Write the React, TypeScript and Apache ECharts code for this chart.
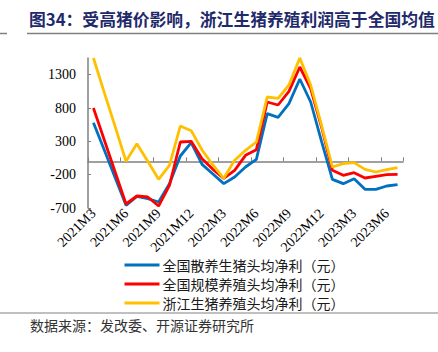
import React, { useEffect, useRef } from "react";
import * as echarts from "echarts";

const categories = [
  "2021M3", "2021M4", "2021M5", "2021M6", "2021M7", "2021M8", "2021M9", "2021M10", "2021M11", "2021M12",
  "2022M1", "2022M2", "2022M3", "2022M4", "2022M5", "2022M6", "2022M7", "2022M8", "2022M9", "2022M10",
  "2022M11", "2022M12", "2023M1", "2023M2", "2023M3", "2023M4", "2023M5", "2023M6", "2023M7",
];

const seriesNames = [
  "全国散养生猪头均净利（元）",
  "全国规模养殖头均净利（元）",
  "浙江生猪养殖头均净利（元）",
];

const retailProfit = [580, 170, -245, -660, -525, -560, -610, -335, 80, 280, -45, -190, -335, -235, -85, 30, 715, 660, 865, 1235, 890, 300, -270, -335, -260, -420, -420, -370, -350];
const scaleProfit = [800, 320, -160, -640, -520, -535, -670, -360, 290, 300, 40, -120, -255, -135, 90, 175, 890, 845, 1050, 1415, 1090, 515, -135, -210, -170, -250, -225, -200, -195];
const zhejiangProfit = [1550, 1030, 520, 0, 265, 0, -270, -60, 530, 460, 170, -55, -255, 15, 165, 290, 965, 945, 1145, 1550, 1145, 540, -85, -35, -20, -120, -160, -125, -95];

const colors = ["#0070C0", "#FF0000", "#FFC000"];

const titleText = "图34：受高猪价影响，浙江生猪养殖利润高于全国均值";
const sourceText = "数据来源：发改委、开源证券研究所";

export default function App() {
  const ref = useRef<HTMLDivElement>(null);
  useEffect(() => {
    if (!ref.current) return;
    const chart = echarts.init(ref.current, null, { renderer: "svg" });
    const serif = "Liberation Serif";
    const cjk = "Noto Sans CJK SC";
    const data = [retailProfit, scaleProfit, zhejiangProfit];
    chart.setOption({
      animation: false,
      backgroundColor: "#ffffff",
      grid: { left: 88, right: 35, top: 58, bottom: 144 },
      legend: {
        orient: "vertical",
        left: 118,
        top: 253,
        itemWidth: 35,
        itemHeight: 14,
        itemGap: 5,
        itemStyle: { opacity: 0 },
        lineStyle: { width: 3 },
        textStyle: { fontSize: 14, fontFamily: cjk, color: "#1a1a1a", padding: [0, 0, 0, -2] },
        data: seriesNames,
      },
      xAxis: [
        {
          type: "category",
          data: categories,
          boundaryGap: true,
          position: "bottom",
          axisLine: { show: false, onZero: false },
          axisTick: { show: false },
          axisLabel: {
            interval: 2,
            rotate: 45,
            margin: 3,
            fontSize: 14,
            fontFamily: serif,
            color: "#000",
          },
          splitLine: { show: false },
        },
        {
          type: "category",
          data: categories,
          boundaryGap: true,
          position: "bottom",
          axisLine: { show: true, onZero: true, lineStyle: { color: "#808080", width: 1.5 } },
          axisTick: { show: true, inside: true, interval: 2, length: 4, lineStyle: { color: "#808080" } },
          axisLabel: { show: false },
          splitLine: { show: false },
        },
      ],
      yAxis: {
        type: "value",
        min: -700,
        max: 1550,
        interval: 500,
        axisLine: { show: true, lineStyle: { color: "#808080", width: 1.5 } },
        axisTick: { show: true, inside: true, length: 3, lineStyle: { color: "#808080" } },
        axisLabel: {
          showMaxLabel: false,
          fontSize: 14,
          fontFamily: serif,
          color: "#000",
          margin: 12,
          formatter: (v: number) => String(v),
        },
        splitLine: { show: false },
      },
      series: seriesNames.map((name, i) => ({
        name,
        type: "line",
        xAxisIndex: 0,
        data: data[i],
        symbol: "none",
        lineStyle: { color: colors[i], width: 2.8 },
        itemStyle: { color: colors[i] },
      })),
      graphic: [
        {
          type: "text",
          left: 29,
          top: 11,
          style: { text: titleText, fontSize: 16.8, fontWeight: "bold", fontFamily: cjk, fill: "#1F2A6B" },
        },
        { type: "line", shape: { x1: 27, y1: 33.5, x2: 438, y2: 33.5 }, style: { stroke: "#808080", lineWidth: 1.5 } },
        { type: "line", shape: { x1: 0, y1: 33.5, x2: 7, y2: 33.5 }, style: { stroke: "#808080", lineWidth: 1.5 } },
        { type: "line", shape: { x1: 0, y1: 313, x2: 438, y2: 313 }, style: { stroke: "#808080", lineWidth: 1 } },
        {
          type: "text",
          left: 30,
          top: 318,
          style: { text: sourceText, fontSize: 14, fontFamily: cjk, fill: "#333" },
        },
      ],
    });
    return () => chart.dispose();
  }, []);
  return (
    <div
      ref={ref}
      style={{ position: "fixed", left: 0, top: 0, width: 438, height: 352, background: "#fff" }}
    />
  );
}
